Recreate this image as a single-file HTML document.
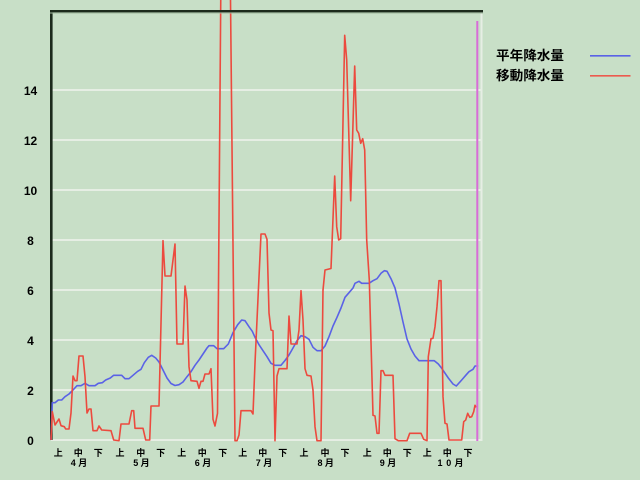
<!DOCTYPE html>
<html><head><meta charset="utf-8"><style>
html,body{margin:0;padding:0;background:#c8dfc7;}
svg{display:block;}
text{font-family:"Liberation Sans","Noto Sans CJK JP",sans-serif;font-weight:bold;fill:#000;}
</style></head><body>
<svg width="640" height="480" viewBox="0 0 640 480" xmlns="http://www.w3.org/2000/svg">
<rect x="0" y="0" width="640" height="480" fill="#c8dfc7"/>
<!-- gridlines -->
<g stroke="#e6eee4" stroke-width="2">
<line x1="51" y1="90" x2="482" y2="90"/>
<line x1="51" y1="140" x2="482" y2="140"/>
<line x1="51" y1="190" x2="482" y2="190"/>
<line x1="51" y1="240" x2="482" y2="240"/>
<line x1="51" y1="290" x2="482" y2="290"/>
<line x1="51" y1="340" x2="482" y2="340"/>
<line x1="51" y1="390" x2="482" y2="390"/>
<line x1="51" y1="440" x2="482" y2="440"/>
<line x1="481.5" y1="12" x2="481.5" y2="441"/>
</g>
<!-- axes -->
<line x1="51.3" y1="10" x2="51.3" y2="440" stroke="#1c2a1c" stroke-width="2.6"/>
<!-- blue series -->
<polyline fill="none" stroke="#5a62e6" stroke-width="1.6" stroke-linejoin="round" points="51,440 52.3,402.7 55,402.7 58.3,400 61.7,400 65,396.7 69,394 73,390 77,385.7 81,385.7 85,383.3 89,385.7 95,385.7 98.3,383.3 102.3,382.7 105.7,380 110.3,378 113.7,375.3 121.7,375.3 125,378.7 129,378.7 133,375.3 137.7,371.3 141,369.3 144.3,362.7 148.3,357.3 151.7,355.3 155.7,358 159,362 163,370 167,378 171,383.5 175,385.5 179,384.7 183,382 187,376.7 191,371.7 195,365.3 199,360 203,354 207,348 209,345.7 213.7,345.7 217,348.7 223.7,348.7 228.3,344 233,332.7 237.7,324.7 241.7,320 245,320.7 249,326.7 252.3,331.3 255,337.3 259,344.7 263,350.7 267,356.7 271,363.3 275,365.3 281,365.3 285,360.5 289,355 293,348 297,340.7 301,335.7 305,336.7 309,339.3 313,347.3 317,350.7 321,350.7 325,346 329,336.7 333,326 337,317.3 341,308 345,297.3 349,292.7 353,288 355,283.3 359,281.3 361.7,283.3 369,283.3 373,280.7 377,278.7 381,273.3 384.3,270.7 387,271.3 391,278.7 395,288 399,304 403,322 407,339 411,349 415,356 419,360.7 434.3,360.7 438.3,364 441.7,368.3 448.3,378 453,384 456.3,386 461.7,380 466.3,374.7 469,371.7 473,369.3 475,366 478.3,366"/>
<!-- red series -->
<polyline fill="none" stroke="#ec4a3e" stroke-width="1.6" stroke-linejoin="round" points="51,440 52.3,411.7 55,425 59,419 61,425.7 64.3,426.7 65.7,429 69,429 71,413 73,376 75,380.7 77,380.7 79,356 83,356 85,376.7 87,413 89,409 91,409 93,430.7 97,430.7 99,426 101.7,430 111,430.7 113.7,440 119,440.7 121,424 129,424 131.7,410.7 133.7,410.7 135,428.3 143,428.3 145.7,440 149.7,440 151,406 159,406 163,240.7 165,276 171,276 175,244 177,344 183,344 185,286 187,300 189,366.7 191,380.7 197,381.3 199,388.3 201,381.3 203,381.3 205,374 209,374 211,368.7 213,419.3 215,426 217.5,413.3 220.9,-20 230.3,-20 235,440.7 237,440.7 239,435 241,410.7 251,410.7 253,414 255,363 261,234 265,234 267,239.3 269,313 271,330 273,330.7 275,440.7 277,376 279,368.7 287,368.7 289,316 291,344 297,344 299,330 301,290.7 303,320 305,368.7 307,375.3 311,376 313,390 315,426.7 317,440.7 321,440.7 323,290 325,270 331,268.5 334.7,176 336.7,226.7 338.7,240 340.7,238.7 344.7,35.3 346.7,60 350.7,200.7 354.7,66 356.7,130 358.7,133.3 360.7,143.3 362.7,138.7 364.7,150 366.7,240 369.3,280 373,415.3 375,416 377,433.3 379,433.3 381,370.7 383,370.7 385,375.3 393,375.3 395,438.7 398.3,440.7 407,440.7 409.7,433.3 421,433.3 423.7,439.3 427,440.7 428.3,356.7 431,338.7 433,338.3 435,326.7 437,306.7 439,280.7 441,280.7 443,396.7 445,423.3 447,424 449,440 461.7,440 463.7,421.7 465.7,420 467.7,413.3 469.7,417.3 471.7,416.7 473.7,411.7 475,405.3 476.3,407.3"/>
<!-- top axis -->
<line x1="50" y1="11.2" x2="483" y2="11.2" stroke="#1c2a1c" stroke-width="2.4"/>
<line x1="50" y1="13" x2="483" y2="13" stroke="#9fb89e" stroke-width="1"/>
<!-- magenta marker -->
<line x1="477.3" y1="21" x2="477.3" y2="441" stroke="#d86cd8" stroke-width="2"/>
<!-- y labels -->
<g font-size="12" text-anchor="middle">
<text x="30.5" y="95">14</text>
<text x="30.5" y="145">12</text>
<text x="30.5" y="195">10</text>
<text x="30.5" y="245">8</text>
<text x="30.5" y="295">6</text>
<text x="30.5" y="345">4</text>
<text x="30.5" y="395">2</text>
<text x="30.5" y="445">0</text>
</g>
<!-- x labels -->
<g font-size="9" text-anchor="middle">
<text x="58.3" y="456">上</text><text x="78.3" y="456">中</text><text x="98.3" y="456">下</text>
<text x="120" y="456">上</text><text x="140.7" y="456">中</text><text x="160.7" y="456">下</text>
<text x="181.7" y="456">上</text><text x="202.3" y="456">中</text><text x="222.7" y="456">下</text>
<text x="242.7" y="456">上</text><text x="262.7" y="456">中</text><text x="282.7" y="456">下</text>
<text x="304" y="456">上</text><text x="325" y="456">中</text><text x="345" y="456">下</text>
<text x="367.3" y="456">上</text><text x="387.3" y="456">中</text><text x="407.3" y="456">下</text>
<text x="427.3" y="456">上</text><text x="447.3" y="456">中</text><text x="468" y="456">下</text>
</g>
<g font-size="9" text-anchor="middle">
<text x="73.3" y="466">4</text><text x="82.7" y="466">月</text>
<text x="135.7" y="466">5</text><text x="145.1" y="466">月</text>
<text x="197.3" y="466">6</text><text x="206.7" y="466">月</text>
<text x="258.3" y="466">7</text><text x="267.7" y="466">月</text>
<text x="320" y="466">8</text><text x="329.4" y="466">月</text>
<text x="382.3" y="466">9</text><text x="391.7" y="466">月</text>
<text x="440" y="466">1</text><text x="448.7" y="466">0</text><text x="459" y="466">月</text>
</g>
<!-- legend -->
<g font-size="13">
<text x="496" y="60" textLength="68" lengthAdjust="spacingAndGlyphs">平年降水量</text>
<text x="496" y="80" textLength="68" lengthAdjust="spacingAndGlyphs">移動降水量</text>
</g>
<line x1="590" y1="55.8" x2="630.5" y2="55.8" stroke="#5a62e6" stroke-width="1.7"/>
<line x1="590" y1="75.8" x2="630.5" y2="75.8" stroke="#ec5a4e" stroke-width="1.7"/>
</svg>
</body></html>
